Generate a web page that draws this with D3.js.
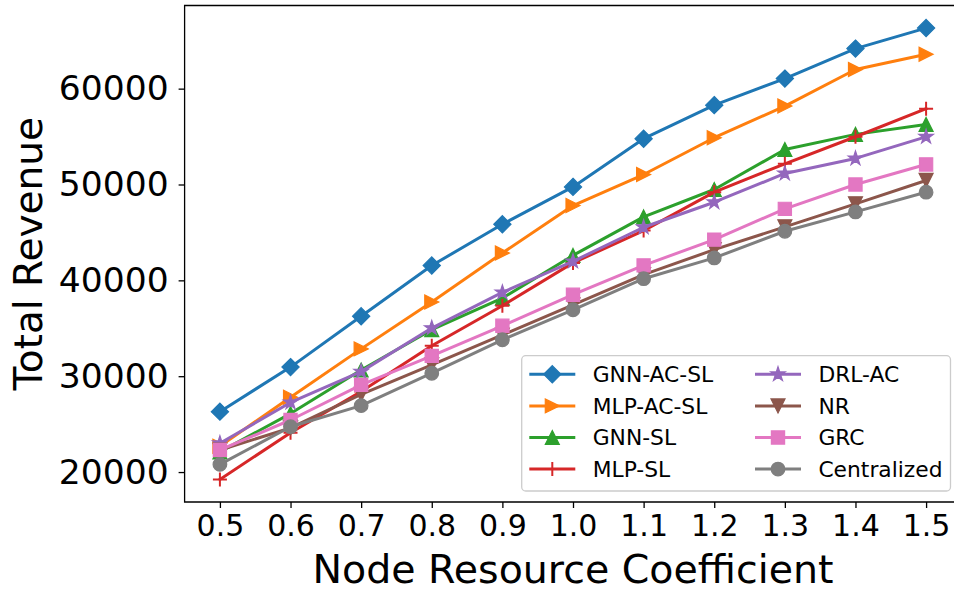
<!DOCTYPE html>
<html>
<head>
<meta charset="utf-8">
<script src="https://cdn.jsdelivr.net/npm/d3@7"></script>
<style>
  html, body { margin: 0; padding: 0; background: #fff; }
  svg { display: block; font-family: "DejaVu Sans", sans-serif; }
</style>
</head>
<body>
<svg id="chart" width="954" height="590"></svg>
<script>
// Node resource coefficient on the x axis
const coefficients = [0.5, 0.6, 0.7, 0.8, 0.9, 1.0, 1.1, 1.2, 1.3, 1.4, 1.5];
const xTickLabels = ["0.5", "0.6", "0.7", "0.8", "0.9", "1.0", "1.1", "1.2", "1.3", "1.4", "1.5"];
const yTickValues = [20000, 30000, 40000, 50000, 60000];

// Total revenue per method
const gnnAcSl     = [26300, 30950, 36250, 41550, 45850, 49750, 54780, 58280, 61050, 64180, 66320];
const mlpAcSl     = [22700, 27800, 32850, 37740, 42850, 47800, 51040, 54880, 58180, 62000, 63590];
const gnnSl       = [22100, 26100, 30650, 34850, 38150, 42600, 46620, 49480, 53650, 55230, 56270];
const mlpSl       = [19230, 24100, 28400, 33170, 37350, 41820, 45190, 49200, 52160, 54980, 57900];
const drlAc       = [23000, 27260, 30480, 35020, 38740, 41980, 45540, 48150, 51150, 52720, 54980];
const nr          = [22300, 24600, 28100, 31180, 34300, 37450, 40590, 43200, 45580, 47980, 50420];
const grc         = [22300, 25430, 29090, 32120, 35260, 38500, 41560, 44250, 47460, 50000, 52090];
const centralized = [20800, 24730, 26930, 30310, 33800, 36930, 40170, 42340, 45120, 47140, 49200];

const seriesNames = ["GNN-AC-SL", "MLP-AC-SL", "GNN-SL", "MLP-SL", "DRL-AC", "NR", "GRC", "Centralized"];
const seriesValues = [gnnAcSl, mlpAcSl, gnnSl, mlpSl, drlAc, nr, grc, centralized];
const seriesColors = ["#1f77b4", "#ff7f0e", "#2ca02c", "#d62728", "#9467bd", "#8c564b", "#e377c2", "#7f7f7f"];
const seriesMarkers = ["diamond", "triangleRight", "triangleUp", "plus", "star", "triangleDown", "square", "circle"];

const svg = d3.select("#chart");
const plot = { left: 184.6, right: 961.4, top: 5.5, bottom: 502 };

const x = d3.scaleLinear().domain([0.45, 1.55]).range([plot.left, plot.right]);

const allValues = seriesValues.flat();
const [vMin, vMax] = d3.extent(allValues);
const pad = (vMax - vMin) * 0.05;
const y = d3.scaleLinear().domain([vMin - pad, vMax + pad]).range([plot.bottom, plot.top]);

// Marker shapes, sized in pixels
const M = 7; // half-size
function markerPath(kind) {
  switch (kind) {
    case "diamond": { const r = 8.6; return `M0,${-r}L${r},0L0,${r}L${-r},0Z`; }
    case "triangleRight": return `M${M},0L${-M},${-M}L${-M},${M}Z`;
    case "triangleUp": return `M0,${-M}L${M},${M}L${-M},${M}Z`;
    case "triangleDown": return `M0,${M}L${M},${-M}L${-M},${-M}Z`;
    case "square": { const s = 6.6; return `M${-s},${-s}H${s}V${s}H${-s}Z`; }
    case "plus": return `M${-M},0H${M}M0,${-M}V${M}`;
    case "circle": { const r = 6.8; return `M${r},0A${r},${r} 0 1 1 ${-r},0A${r},${r} 0 1 1 ${r},0Z`; }
    case "star": {
      const outer = 7.6, inner = outer * 0.381966;
      let p = "";
      for (let i = 0; i < 10; i++) {
        const a = Math.PI / 5 * i - Math.PI / 2;
        const r = i % 2 === 0 ? outer : inner;
        p += (i === 0 ? "M" : "L") + (r * Math.cos(a)).toFixed(2) + "," + (r * Math.sin(a)).toFixed(2);
      }
      return p + "Z";
    }
  }
}
function styleMarker(sel, kind, color) {
  if (kind === "plus") {
    sel.attr("fill", "none").attr("stroke", color).attr("stroke-width", 2);
  } else {
    sel.attr("fill", color).attr("stroke", color).attr("stroke-width", 1.2).attr("stroke-linejoin", "miter");
  }
}

// Clip so the plot region stays inside the axes
svg.append("defs").append("clipPath").attr("id", "plotClip")
  .append("rect").attr("x", plot.left).attr("y", plot.top)
  .attr("width", plot.right - plot.left).attr("height", plot.bottom - plot.top);

// Axes
const xAxis = d3.axisBottom(x).tickValues(coefficients)
  .tickFormat((d, i) => xTickLabels[i]).tickSize(6).tickPadding(7);
const yAxis = d3.axisLeft(y).tickValues(yTickValues)
  .tickFormat(d3.format("d")).tickSize(6).tickPadding(10);

const gx = svg.append("g").attr("transform", `translate(0,${plot.bottom})`).call(xAxis);
gx.select(".domain").remove();
gx.selectAll(".tick line").attr("stroke", "#000").attr("stroke-width", 1.3);
gx.selectAll(".tick text").attr("fill", "#000").attr("font-size", 30).attr("font-family", "DejaVu Sans");

const gy = svg.append("g").attr("transform", `translate(${plot.left},0)`).call(yAxis);
gy.select(".domain").remove();
gy.selectAll(".tick line").attr("stroke", "#000").attr("stroke-width", 1.3);
gy.selectAll(".tick text").attr("fill", "#000").attr("font-size", 34.5).attr("font-family", "DejaVu Sans");

// Lines and markers
const lineGen = d3.line().x((d, i) => x(coefficients[i])).y(d => y(d));
const plotG = svg.append("g").attr("clip-path", "url(#plotClip)");
seriesValues.forEach((vals, si) => {
  const g = plotG.append("g");
  g.append("path").datum(vals).attr("d", lineGen)
    .attr("fill", "none").attr("stroke", seriesColors[si]).attr("stroke-width", 3)
    .attr("stroke-linejoin", "round").attr("stroke-linecap", "square");
  g.selectAll("path.mk").data(vals).enter().append("path").attr("class", "mk")
    .attr("transform", (d, i) => `translate(${x(coefficients[i])},${y(d)})`)
    .attr("d", markerPath(seriesMarkers[si]))
    .call(styleMarker, seriesMarkers[si], seriesColors[si]);
});

// Spines (left, bottom, top; right edge lies beyond the canvas)
svg.append("path")
  .attr("d", `M${plot.right},${plot.top}H${plot.left}V${plot.bottom}H${plot.right}`)
  .attr("fill", "none").attr("stroke", "#000").attr("stroke-width", 1.3);

// Axis titles
svg.append("text").attr("x", (plot.left + plot.right) / 2).attr("y", 582.5)
  .attr("text-anchor", "middle").attr("font-size", 39.5).attr("fill", "#000")
  .text("Node Resource Coefficient");
svg.append("text")
  .attr("transform", `translate(41.5,${(plot.top + plot.bottom) / 2}) rotate(-90)`)
  .attr("text-anchor", "middle").attr("font-size", 39).attr("fill", "#000")
  .text("Total Revenue");

// Legend (two columns, lower right)
const legend = { x: 521.7, y: 355.7, w: 428.8, h: 135.3 };
const lg = svg.append("g");
lg.append("rect").attr("x", legend.x).attr("y", legend.y).attr("width", legend.w).attr("height", legend.h)
  .attr("rx", 4).attr("fill", "#fff").attr("fill-opacity", 0.8)
  .attr("stroke", "#cccccc").attr("stroke-width", 1.3);
const colX = [529.3, 755];
const rowY = [374.3, 405.9, 437.5, 469.1];
seriesNames.forEach((name, si) => {
  const cx = colX[Math.floor(si / 4)], cy = rowY[si % 4];
  const item = lg.append("g").attr("transform", `translate(${cx},${cy})`);
  item.append("line").attr("x1", 0).attr("x2", 46).attr("y1", 0).attr("y2", 0)
    .attr("stroke", seriesColors[si]).attr("stroke-width", 3);
  item.append("path").attr("transform", "translate(23,0)")
    .attr("d", markerPath(seriesMarkers[si]))
    .call(styleMarker, seriesMarkers[si], seriesColors[si]);
  item.append("text").attr("x", 63.4).attr("y", 0).attr("dy", "0.36em")
    .attr("font-size", 21.8).attr("fill", "#000").text(name);
});
</script>
</body>
</html>
